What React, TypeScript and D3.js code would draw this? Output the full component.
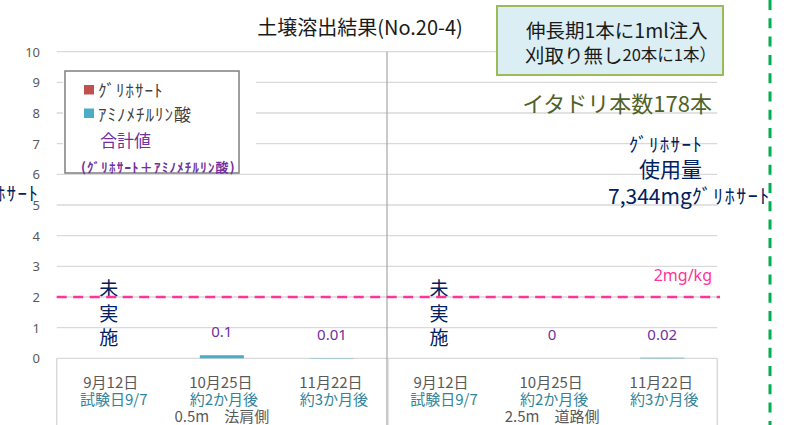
import React from "react";
import * as d3 from "d3";

const categories = ["9月12日", "10月25日", "11月22日", "9月12日", "10月25日", "11月22日"];
const subLabels = ["試験日9/7", "約2か月後", "約3か月後", "試験日9/7", "約2か月後", "約3か月後"];
const groupLabels = ["0.5m　法肩側", "2.5m　道路側"];
const notTested = [true, false, false, true, false, false];
const glyphosate = [0, 0, 0, 0, 0, 0];
const ampa = [0, 0.1, 0.01, 0, 0, 0.02];
const yTicks = [0, 1, 2, 3, 4, 5, 6, 7, 8, 9, 10];
const limitValue = 2;
const limitLabel = "2mg/kg";
const seriesNames = ["ｸﾞﾘﾎｻｰﾄ", "ｱﾐﾉﾒﾁﾙﾘﾝ酸"];
const seriesColors = ["#C0504D", "#4BACC6"];

const W = 789;
const H = 425;
const FONT = "'Noto Sans CJK JP', 'Noto Sans', sans-serif";

export default function App() {
  const x = d3
    .scaleBand<number>()
    .domain(d3.range(categories.length))
    .range([56.7, 717.3])
    .paddingInner(0.6)
    .paddingOuter(0.3);
  const y = d3.scaleLinear().domain([0, 10]).range([358.3, 51.7]);
  const step = x.step();
  const left = 56.7;
  const right = 717.3;
  const mid = left + step * 3;

  const rows = categories.map((c, i) => ({ i, g: glyphosate[i], a: ampa[i] }));
  const stacked = d3.stack<any>().keys(["g", "a"])(rows);

  return (
    <div style={{ position: "absolute", left: 0, top: 0 }}>
      <svg width={W} height={H} style={{ display: "block", fontFamily: FONT }}>
        <rect x={0} y={0} width={W} height={H} fill="#fff" />
        {/* gridlines */}
        {yTicks.map((t) => (
          <line key={t} x1={left} x2={right} y1={y(t)} y2={y(t)} stroke="#D9D9D9" strokeWidth={1.3} />
        ))}
        {yTicks.map((t) => (
          <text key={"yl" + t} x={40} y={y(t)} textAnchor="end" dominantBaseline="central" fontSize={13} fill="#595959" fontFamily="'Noto Sans', sans-serif">
            {t}
          </text>
        ))}
        {/* axis box */}
        <line x1={left} x2={left} y1={y(0)} y2={H} stroke="#D9D9D9" strokeWidth={1.5} />
        <line x1={right} x2={right} y1={y(0)} y2={H} stroke="#D9D9D9" strokeWidth={1.5} />
        <line x1={mid + 1.5} x2={mid + 1.5} y1={y(0)} y2={H} stroke="#E3E3E3" strokeWidth={1.2} />
        <line x1={mid} x2={mid} y1={y(10)} y2={H} stroke="#A6A6A6" strokeWidth={1.2} />

        {/* bars */}
        {stacked.map((s, si) =>
          s.map((d, i) =>
            notTested[i] || d[1] - d[0] <= 0 ? null : (
              <rect key={si + "-" + i} x={x(i)} width={x.bandwidth()} y={y(d[1])} height={y(d[0]) - y(d[1])} fill={seriesColors[si]} />
            )
          )
        )}

        {/* total labels */}
        {rows.map((r, i) => {
          if (notTested[i]) return null;
          const total = r.g + r.a;
          return (
            <text key={"tl" + i} x={(x(i) as number) + x.bandwidth() / 2} y={y(total) - 24} textAnchor="middle" dominantBaseline="central" fontSize={15} fill="#7030A0" fontFamily="'Noto Sans', sans-serif">
              {String(+total.toFixed(2))}
            </text>
          );
        })}

        {/* not tested */}
        {notTested.map((n, i) =>
          n ? (
            <g key={"nt" + i}>
              {["未", "実", "施"].map((ch, k) => (
                <text key={k} x={(x(i) as number) + x.bandwidth() / 2 - 3} y={y(1.5) + (k - 1) * 24.5} textAnchor="middle" dominantBaseline="central" fontSize={19} fill="#002060">
                  {ch}
                </text>
              ))}
            </g>
          ) : null
        )}

        {/* limit line */}
        <line x1={left} x2={720} y1={y(limitValue)} y2={y(limitValue)} stroke="#FF3399" strokeWidth={2.5} strokeDasharray="10 6.5" />
        <text x={712} y={275} textAnchor="end" dominantBaseline="central" fontSize={16} fill="#FF3399" fontFamily="'Noto Sans', sans-serif">
          {limitLabel}
        </text>

        {/* category labels */}
        {categories.map((c, i) => (
          <g key={"cl" + i}>
            <text x={(x(i) as number) + x.bandwidth() / 2 - 1} y={381} textAnchor="middle" dominantBaseline="central" fontSize={15} fill="#595959">
              {c}
            </text>
            <text x={(x(i) as number) + x.bandwidth() / 2 + 2} y={398} textAnchor="middle" dominantBaseline="central" fontSize={15} fill="#31849B">
              {subLabels[i]}
            </text>
          </g>
        ))}
        {groupLabels.map((g, gi) => (
          <text key={"gl" + gi} x={left + step * 3 * gi + step * 1.5} y={415} textAnchor="middle" dominantBaseline="central" fontSize={15} fill="#595959">
            {g}
          </text>
        ))}

        {/* title */}
        <text x={360} y={26} textAnchor="middle" dominantBaseline="central" fontSize={20} fill="#1a1a1a">
          土壌溶出結果(No.20-4)
        </text>

        {/* note box */}
        <rect x={497} y={6} width={226} height={69} fill="#DAEEF3" stroke="#9BBB59" strokeWidth={2} />
        <text x={526} y={29} dominantBaseline="central" fontSize={19.5} fill="#1a1a1a">
          伸長期1本に1ml注入
        </text>
        <text x={525} y={54} dominantBaseline="central" fontSize={19.5} fill="#1a1a1a">
          刈取り無し<tspan fontSize={16.5}>20本に1本）</tspan>
        </text>

        <text x={712} y={102} textAnchor="end" dominantBaseline="central" fontSize={22} fill="#4F6228">
          イタドリ本数178本
        </text>
        <text x={703} y={143} textAnchor="end" dominantBaseline="central" fontSize={19} letterSpacing={1.3} fill="#002060">
          ｸﾞﾘﾎｻｰﾄ
        </text>
        <text x={702} y={168} textAnchor="end" dominantBaseline="central" fontSize={21} fill="#002060">
          使用量
        </text>
        <text x={608} y={195} dominantBaseline="central" fontSize={21} fill="#002060">
          7,344mg<tspan fontSize={20} letterSpacing={1.5}>ｸﾞﾘﾎｻｰﾄ</tspan>
        </text>
        <text x={39} y={192} textAnchor="end" dominantBaseline="central" fontSize={19} letterSpacing={1.3} fill="#002060">
          ｸﾞﾘﾎｻｰﾄ
        </text>

        {/* legend */}
        <rect x={63} y={70} width={193} height={102} fill="#fff" />
        <rect x={65} y={71} width={174} height={102} fill="none" stroke="#7F7F7F" strokeWidth={1.5} />
        {seriesNames.map((s, i) => (
          <g key={"lg" + i}>
            <rect x={84} y={85 + i * 23.5} width={10} height={9.5} fill={seriesColors[i]} />
            <text x={98} y={89.5 + i * 23.5} dominantBaseline="central" fontSize={17} letterSpacing={1} fill="#404040">
              {s}
            </text>
          </g>
        ))}
        <text x={100} y={139} dominantBaseline="central" fontSize={17} fill="#7030A0">
          合計値
        </text>
        <text x={81} y={166} dominantBaseline="central" fontSize={13} fontWeight="bold" letterSpacing={1.2} fill="#7030A0">
          (ｸﾞﾘﾎｻｰﾄ＋ｱﾐﾉﾒﾁﾙﾘﾝ酸)
        </text>

        {/* green dashed border */}
        <line x1={770} x2={770} y1={0} y2={H} stroke="#00B050" strokeWidth={3} strokeDasharray="10 8.3" />
      </svg>
    </div>
  );
}
